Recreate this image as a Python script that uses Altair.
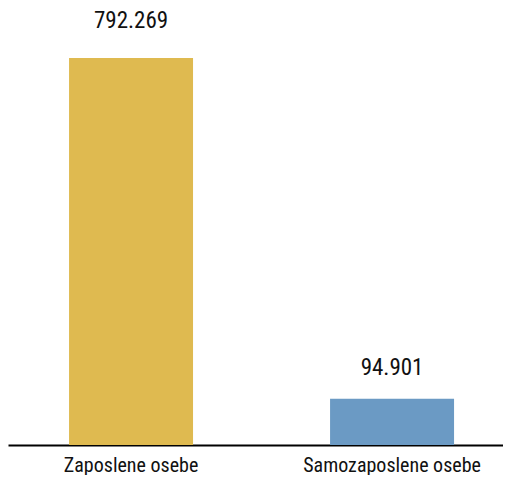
import altair as alt
import pandas as pd

categories = ["Zaposlene osebe", "Samozaposlene osebe"]
values = [792269, 94901]
labels = ["792.269", "94.901"]
colors = ["#DFBA50", "#6B9AC4"]

df = pd.DataFrame({"cat": categories, "val": values, "lab": labels})

FONT = "Liberation Sans Narrow, Roboto Condensed, DejaVu Sans Condensed, Arial Narrow, sans-serif"

x = alt.X("cat:N", sort=categories, title=None,
          scale=alt.Scale(paddingInner=0.525, paddingOuter=0.2107, align=0.555),
          axis=alt.Axis(labelAngle=0, ticks=False, domainColor="#000000", domainWidth=2,
                        labelFont=FONT, labelFontSize=20, labelColor="#111111",
                        labelBaseline="alphabetic", labelPadding=26, labelLimit=0))
y = alt.Y("val:Q", title=None, scale=alt.Scale(domain=[0, 894600], nice=False), axis=None)

bars = alt.Chart(df).mark_bar().encode(
    x=x, y=y,
    color=alt.Color("cat:N", scale=alt.Scale(domain=categories, range=colors), legend=None),
)

t1 = alt.Chart(df).transform_filter(alt.datum.cat == categories[0]).mark_text(
    baseline="alphabetic", dy=-30, font=FONT, fontSize=23, color="#111111"
).encode(x=alt.X("cat:N", sort=categories), y="val:Q", text="lab:N")

t2 = alt.Chart(df).transform_filter(alt.datum.cat == categories[1]).mark_text(
    baseline="alphabetic", dy=-24, font=FONT, fontSize=23, color="#111111"
).encode(x=alt.X("cat:N", sort=categories), y="val:Q", text="lab:N")

chart = alt.layer(bars, t1, t2).properties(
    width=495, height=437,
    background="white",
    autosize=alt.AutoSizeParams(type="none"),
    padding={"left": 0, "top": 0, "right": 0, "bottom": 30},
).configure_view(stroke=None, strokeWidth=0)

chart.save("out.html", embed_options={"renderer": "svg", "actions": False})
